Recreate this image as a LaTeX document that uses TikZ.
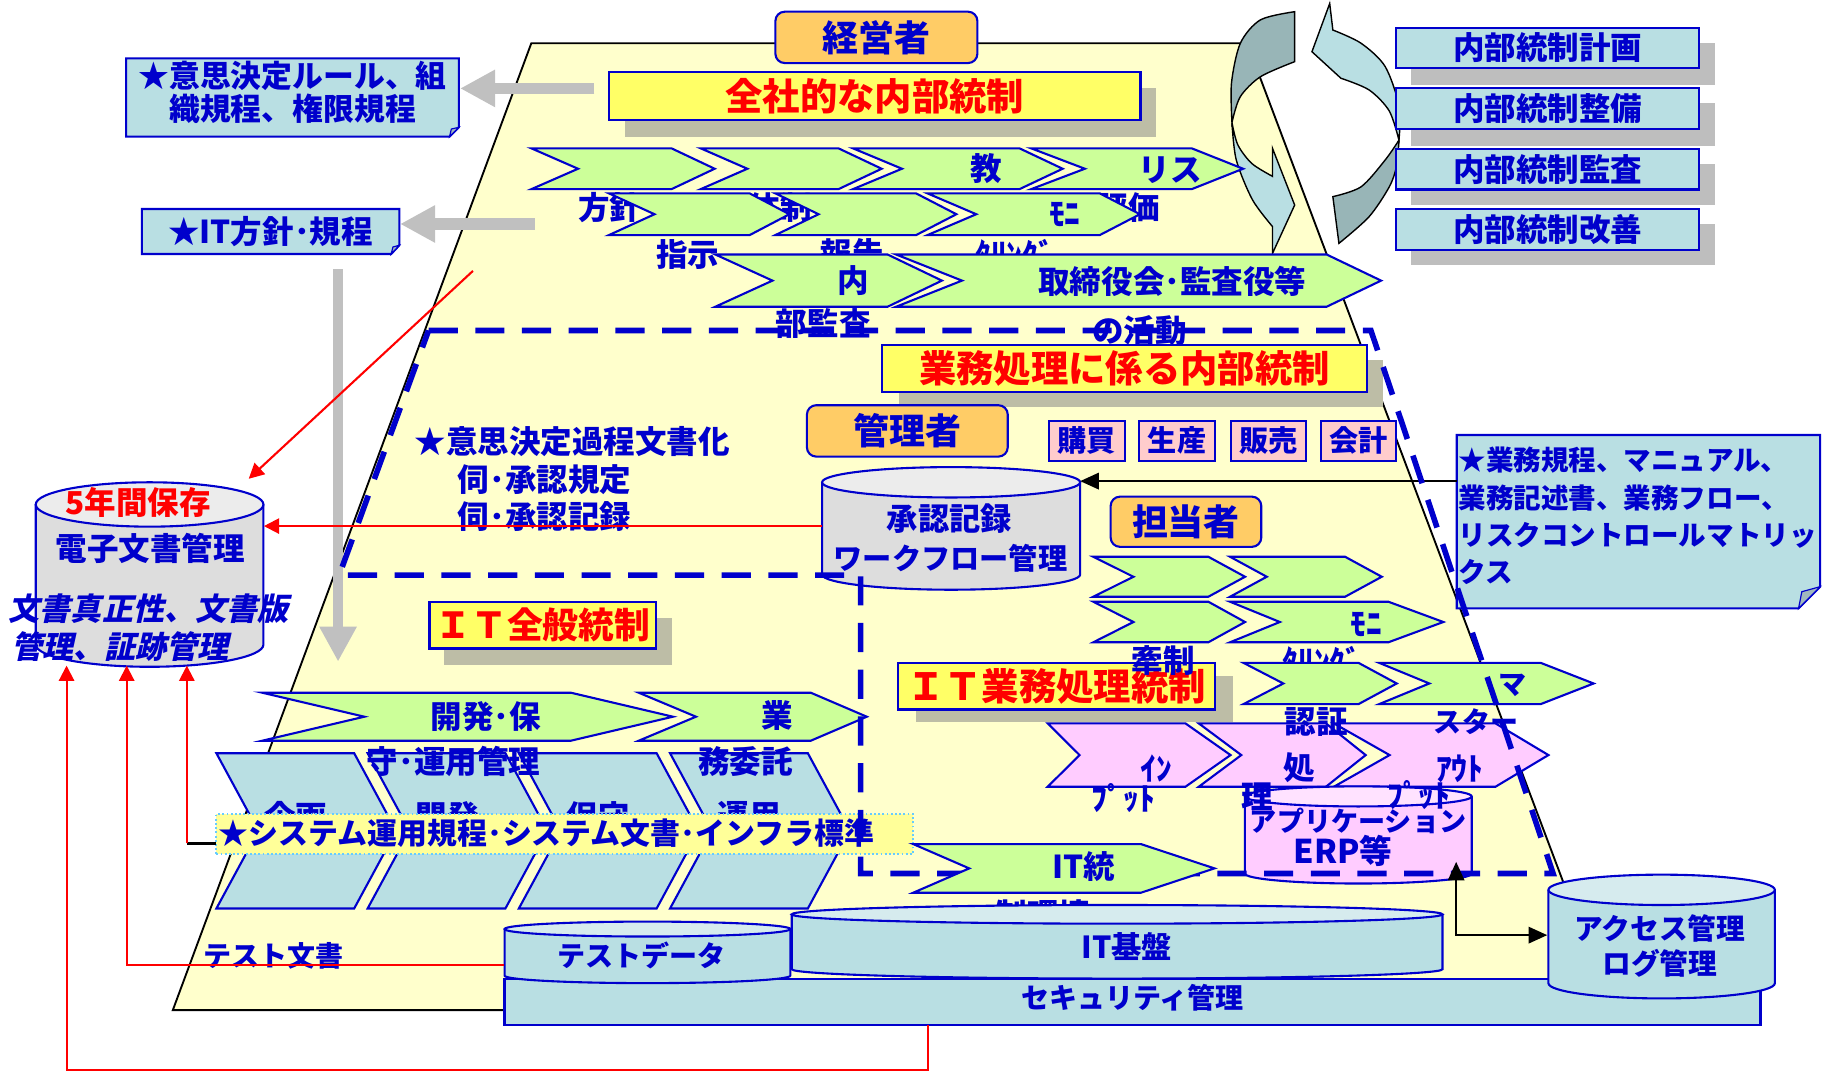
\documentclass[tikz,border=0pt]{standalone}
\usepackage{fontspec}
\setmainfont{Noto Sans CJK JP}
\newfontfamily\jpit{Noto Sans CJK JP}[FakeSlant=0.22]
\usetikzlibrary{arrows.meta,calc}
\definecolor{ublue}{RGB}{0,0,204}
\definecolor{lblue}{RGB}{185,223,227}
\definecolor{lbluet}{RGB}{214,235,238}
\definecolor{lgreen}{RGB}{204,255,153}
\definecolor{pinkc}{RGB}{255,204,255}
\definecolor{pinkt}{RGB}{255,226,255}
\definecolor{pinkb}{RGB}{255,204,204}
\definecolor{ttl}{RGB}{255,255,102}
\definecolor{trap}{RGB}{255,255,204}
\definecolor{orng}{RGB}{255,204,102}
\definecolor{shy}{RGB}{189,189,166}
\definecolor{shg}{RGB}{190,190,190}
\definecolor{garrow}{RGB}{192,192,192}
\definecolor{cdark}{RGB}{152,181,183}
\definecolor{cylg}{RGB}{221,221,221}
\definecolor{cylgt}{RGB}{236,236,236}
\definecolor{sysy}{RGB}{255,255,153}
\definecolor{dotb}{RGB}{102,204,255}
\definecolor{foldc}{RGB}{160,184,190}
\newcommand{\fsz}[2]{\fontsize{#1}{#2}\selectfont}
\newcommand{\chev}[7][chv]{%
  \pgfmathsetmacro\chvym{(#6+#7)/2}%
  \pgfmathsetmacro\chvxn{#2+#3}%
  \pgfmathsetmacro\chvxt{#4+#5}%
  \filldraw[#1] (#2,#6) -- (#4,#6) -- (\chvxt,\chvym) -- (#4,#7) -- (#2,#7) -- (\chvxn,\chvym) -- cycle;}
\newcommand{\cyl}[7]{%
  \pgfmathsetmacro\cylcx{(#3+#4)/2}%
  \pgfmathsetmacro\cylrx{(#4-#3)/2}%
  \fill[#1] (#3,#5) rectangle (#4,#6);
  \fill[#1] (\cylcx,#6) ellipse[x radius=\cylrx, y radius=#7];
  \draw[cylline] (#3,#5) -- (#3,#6) arc[start angle=180, end angle=0, x radius=\cylrx, y radius=#7] -- (#4,#5);
  \filldraw[fill=#2, cylline] (\cylcx,#5) ellipse[x radius=\cylrx, y radius=#7];}
\tikzset{
  chv/.style={fill=lgreen, draw=ublue, line width=0.9pt},
  pchv/.style={fill=pinkc, draw=ublue, line width=0.9pt},
  cylline/.style={draw=ublue, line width=0.9pt},
  txt/.style={text=ublue, font=\bfseries\fsz{13.5}{16}, inner sep=0pt, outer sep=0pt},
  lbox/.style={fill=lblue, draw=ublue, line width=0.9pt, text=ublue, font=\bfseries\fsz{13.5}{16}, inner sep=0pt},
  tbox/.style={fill=ttl, draw=ublue, line width=0.9pt, text=red, font=\bfseries\fsz{16}{18}, inner sep=0pt},
  obox/.style={fill=orng, draw=ublue, line width=0.9pt, rounded corners=4pt, text=ublue, font=\bfseries\fsz{15.4}{18}, inner sep=0pt},
  pbox/.style={fill=pinkb, draw=ublue, line width=0.9pt, text=ublue, font=\bfseries\fsz{12.5}{14}, inner sep=0pt},
  garr/.style={draw=garrow, line width=5pt, -{Triangle[width=15pt,length=15pt]}},
  redarr/.style={draw=red, line width=0.9pt, -{Triangle[width=6.5pt,length=6.5pt]}},
  blk/.style={draw=black, line width=1pt, -{Triangle[width=7pt,length=8pt]}},
  bdash/.style={draw=ublue, line width=2.4pt, dash pattern=on 12.5pt off 7.5pt},
  arc3d/.style={draw=black, line width=0.6pt}
}
\begin{document}
\begin{tikzpicture}[x=0.5pt,y=-0.5pt]
\useasboundingbox (0,0) rectangle (1568,917);
% trapezoid
\filldraw[fill=trap, draw=black, line width=0.8pt] (455,37) -- (1068,37) -- (1380,865) -- (148,865) -- cycle;
% circular arrows
\filldraw[arc3d, fill=cdark] (1108.7,10) -- (1108.7,52.8) -- plot[smooth] coordinates {(1108.7,52.8) (1079.4,65.7) (1062,83) (1055,105)} -- plot[smooth] coordinates {(1055,105) (1054.6,71) (1062.2,37) (1079.4,17) (1108.7,10)} -- cycle;
\filldraw[arc3d, fill=lblue] (1055,105) -- plot[smooth] coordinates {(1055,105) (1058.7,137) (1072.5,171) (1089.7,194)} -- (1089.7,217) -- (1108.7,175.6) -- (1089.7,127) -- (1089.7,151) -- plot[smooth] coordinates {(1089.7,151) (1072,140) (1060,124) (1055,105)} -- cycle;
\filldraw[arc3d, fill=lblue] (1138.7,3) -- (1123.5,44.3) -- (1148.3,67) -- plot[smooth] coordinates {(1148.3,67) (1172.4,77) (1189.7,95) (1198,120)} -- plot[smooth] coordinates {(1198,120) (1198.3,91.4) (1186.2,57) (1165.5,37) (1141.4,25.7)} -- cycle;
\filldraw[arc3d, fill=cdark] (1198,120) -- plot[smooth] coordinates {(1198,120) (1196,142) (1189.7,160) (1172.4,185.6) (1146.6,208.4)} -- (1141.4,168.4) -- plot[smooth] coordinates {(1141.4,168.4) (1165.5,160) (1186.2,137) (1198,120)} -- cycle;
% right boxes
\fill[shg] (1208.6,36.5) rectangle (1468.8,72.8);
\fill[shg] (1208.6,88.5) rectangle (1468.8,124.8);
\fill[shg] (1208.6,140.3) rectangle (1468.8,175.6);
\fill[shg] (1208.6,192) rectangle (1468.8,227.3);
\node[lbox, minimum width=129.75pt, minimum height=17.4pt] (ic1) at (1325.3,41.1) {内部統制計画};
\node[lbox, minimum width=129.75pt, minimum height=17.4pt] (ic2) at (1325.3,93.1) {内部統制整備};
\node[lbox, minimum width=129.75pt, minimum height=17.4pt] (ic3) at (1325.3,144.9) {内部統制監査};
\node[lbox, minimum width=129.75pt, minimum height=17.4pt] (ic4) at (1325.3,196.6) {内部統制改善};
% rule box
\filldraw[fill=lblue, draw=ublue, line width=0.9pt] (108,50) -- (393,50) -- (393,109) -- (385,117) -- (108,117) -- cycle;
\filldraw[fill=foldc, draw=ublue, line width=0.5pt] (393,109) -- (385,117) -- (386.5,110.5) -- cycle;
\node[txt, align=center, font=\bfseries\fsz{13.2}{14.3}] (rule) at (250.5,79) {★意思決定ルール、組\\織規程、権限規程};
% IT policy box
\filldraw[fill=lblue, draw=ublue, line width=0.9pt] (121.5,179) -- (342,179) -- (342,210) -- (335,217.5) -- (121.5,217.5) -- cycle;
\filldraw[fill=foldc, draw=ublue, line width=0.5pt] (342,210) -- (335,217.5) -- (336.5,211.5) -- cycle;
\node[txt] (itpol) at (231.7,198.3) {★IT方針･規程};
% grey arrows
\coordinate (ga1s) at (509,75.7); \coordinate (ga1e) at (394,75.7);
\coordinate (ga2s) at (458,191.8); \coordinate (ga2e) at (342.6,191.8);
\draw[garr] (ga1s) -- (ga1e);
\draw[garr] (ga2s) -- (ga2e);
% top
\node[obox, minimum width=86.5pt, minimum height=22pt] (keiei) at (750.5,32) {経営者};
\fill[shy] (535,75) rectangle (990,117);
\node[tbox, minimum width=227.5pt, minimum height=20.5pt] (zensha) at (749.2,82.5) {全社的な内部統制};
% top chevrons row 1
\chev{455}{40}{575}{37}{127}{162}
\chev{600}{40}{718}{37}{127}{162}
\chev{730.4}{42}{873}{37}{127}{162}
\chev{883}{46}{1020.5}{44}{127}{162}
\node[txt] (r1a) at (522,178) {方針};
\node[txt] (r1b) at (668,178) {体制};
\node[txt] (r1c) at (845,144) {教};
\node[txt] (r1d) at (1002,146) {リス};
\node[txt] (r1e) at (966,178) {評価};
% row 2
\chev{521.5}{39}{642}{34}{165.6}{201.3}
\chev{664}{37}{784.5}{34.5}{165.6}{201.3}
\chev{794.3}{41.7}{941.8}{34.4}{165.6}{201.3}
\node[txt] (r2a) at (589,218) {指示};
\node[txt] (r2b) at (730,217) {報告};
\node[txt] (r2c) at (912,184) {ﾓﾆ};
\node[txt] (r2d) at (869,218) {ﾀﾘﾝｸﾞ};
% row 3
\chev{612.5}{49}{760}{46.6}{217.9}{262.7}
\chev{767.3}{56.5}{1136}{46.7}{217.9}{262.7}
\node[txt] (r3a) at (731,240) {内};
\node[txt] (r3b) at (705,277) {部監査};
\node[txt] (r3c) at (1004,241) {取締役会･監査役等};
\node[txt] (r3d) at (976,283) {の活動};
% decision doc texts
\node[txt, anchor=west] (dp1) at (355,378) {★意思決定過程文書化};
\node[txt, anchor=west] (dp2) at (392,411) {伺･承認規定};
\node[txt, anchor=west] (dp3) at (392,442.5) {伺･承認記録};
% electronic doc cylinder
\cyl{cylg}{cylgt}{30.6}{225.6}{432}{552}{19}
\node[txt, text=red] (dd0) at (118.5,430) {5年間保存};
\node[txt] (dd1) at (128.6,469.6) {電子文書管理};
\node[txt, anchor=west, font=\jpit\bfseries\fsz{13.3}{16}] (dd2) at (7.6,521) {文書真正性、文書版};
\node[txt, anchor=west, font=\jpit\bfseries\fsz{13.3}{16}] (dd3) at (9.6,553.5) {管理、証跡管理};
% approval cylinder
\cyl{cylg}{cylgt}{704}{925}{413}{492}{13}
\node[txt, font=\bfseries\fsz{13.4}{16}] (sk1) at (813,444) {承認記録};
\node[txt, font=\bfseries\fsz{12.5}{15}] (sk2) at (814,478) {ワークフロー管理};
% business section
\fill[shy] (769.5,308.4) rectangle (1184.6,348.4);
\node[tbox, minimum width=207.5pt, minimum height=20pt] (gyomu) at (963,315.4) {業務処理に係る内部統制};
\node[obox, minimum width=86pt, minimum height=22pt] (kanri) at (777,369) {管理者};
\node[pbox, minimum width=32.7pt, minimum height=17.3pt] (kobai) at (930.7,377.5) {購買};
\node[pbox, minimum width=32.7pt, minimum height=17.3pt] (seisan) at (1008,377.5) {生産};
\node[pbox, minimum width=32.3pt, minimum height=17.3pt] (hanbai) at (1086.2,377.5) {販売};
\node[pbox, minimum width=32.3pt, minimum height=17.3pt] (kaikei) at (1163.5,377.5) {会計};
\node[obox, minimum width=64.5pt, minimum height=21.5pt] (tanto) at (1015.6,446.8) {担当者};
% business rules box
\filldraw[fill=lblue, draw=ublue, line width=0.9pt] (1247.5,372.5) -- (1558.7,372.5) -- (1558.7,502.4) -- (1540.2,521) -- (1247.5,521) -- cycle;
\filldraw[fill=foldc, draw=ublue, line width=0.5pt] (1558.7,502.4) -- (1540.2,521) -- (1543,506.7) -- cycle;
\node[txt, anchor=west, align=left, font=\bfseries\fsz{11.8}{16}] (gk) at (1249,442) {★業務規程、マニュアル、\\業務記述書、業務フロー、\\リスクコントロールマトリッ\\クス};
\coordinate (gkW) at (1247.5,412); \coordinate (skE) at (925,412);
\draw[blk] (gkW) -- (skE);
% chevrons in business area
\chev{936.3}{34.3}{1034.8}{31.4}{476.8}{511}
\chev{1053.4}{31.4}{1151.9}{31.4}{476.8}{511}
\chev{936.3}{34.3}{1034.8}{31.4}{515.3}{550}
\chev{1053.4}{42.6}{1189}{47}{515.3}{550}
\node[txt] (b2a) at (1170,535) {ﾓﾆ};
\node[txt] (b2b) at (1132,566) {ﾀﾘﾝｸﾞ};
\fill[shy] (784,579) rectangle (1055.5,618.5);
\node[tbox, minimum width=135.75pt, minimum height=19.75pt] (itg) at (904.8,587.8) {ＩＴ業務処理統制};
\chev{1064.8}{34.2}{1163.3}{32.8}{567.6}{603}
\chev{1181}{43}{1319.3}{45.4}{567.6}{603}
\node[txt, font=\bfseries\fsz{12}{14}] (c2a) at (1295,587) {マ};
\chev[pchv]{897.2}{27.3}{1015.2}{38.6}{619.5}{673.7}
\chev[pchv]{1026.6}{36.4}{1135.5}{34}{619.5}{673.7}
\chev[pchv]{1142.3}{47.7}{1280.7}{45.3}{619.5}{673.7}
\cyl{pinkc}{pinkt}{1066}{1260.3}{682}{748}{8.6}
\node[txt, font=\bfseries\fsz{11.6}{14}] (erp1) at (1163,703) {アプリケーション};
\node[txt, font=\bfseries\fsz{14}{16}] (erp2) at (1150,729) {ERP等};
\node[txt] (b1a) at (996,566) {牽制};
\node[txt] (c1a) at (1127,618) {認証};
\node[txt, font=\bfseries\fsz{12}{14}] (c2b) at (1264,618) {スター};
\node[txt] (p1a) at (990,658) {ｲﾝ};
\node[txt] (p1b) at (962,683) {ﾌﾟｯﾄ};
\node[txt] (p2a) at (1113,657) {処};
\node[txt] (p2b) at (1077,682) {理};
\node[txt] (p3a) at (1250,658) {ｱｳﾄ};
\node[txt] (p3b) at (1215,681) {ﾌﾟｯﾄ};
% IT general control section
\fill[shy] (380.4,529.6) rectangle (575.4,569.6);
\node[tbox, minimum width=97.1pt, minimum height=20pt, font=\bfseries\fsz{15.3}{18}] (itz) at (464.9,535.3) {ＩＴ全般統制};
\chev{224.6}{87.4}{488.9}{87.4}{593.2}{634.3}
\chev{547}{49}{694.3}{48}{593.2}{634.3}
\foreach \L/\nm [count=\i] in {185.3/企画,314.8/開発,444.3/保守,573.8/運用}{
  \filldraw[fill=lblue, draw=ublue, line width=0.9pt] (\L,645) -- ({\L+118},645) -- ({\L+154},711.5) -- ({\L+118},778) -- (\L,778) -- ({\L+36},711.5) -- cycle;
  \node[txt] (ph\i) at ({\L+68},699) {\nm};
}
\node[txt] (l1a) at (416,613.7) {開発･保};
\node[txt] (l1b) at (388.5,652) {守･運用管理};
\node[txt] (l2a) at (666,613) {業};
\node[txt] (l2b) at (638.5,652) {務委託};
\node[fill=sysy, draw=dotb, densely dotted, line width=0.8pt, minimum width=298.2pt, minimum height=17.15pt, inner sep=0pt] (sys) at (483.5,714.25) {};
\node[txt, anchor=west, font=\bfseries\fsz{12.8}{15}] (syst) at (187.5,713.7) {★システム運用規程･システム文書･インフラ標準};
% grey vertical arrow
\coordinate (ga3s) at (289.5,230.7); \coordinate (ga3e) at (289.5,566.6);
\draw[garr, line width=4.5pt] (ga3s) -- (ga3e);
% dashed region
\draw[bdash] (367,283) -- (1174,283) -- (1330,748) -- (737,748) -- (737,492.5) -- (290.5,492.5) -- cycle;
% IT control environment chevron
\chev{782}{48}{977}{63}{722.8}{764.5}
\node[txt] (ite1) at (928,742) {IT統};
\node[txt] (ite2) at (893,783) {制環境};
% infrastructure
\node[fill=lblue, draw=ublue, line width=0.9pt, minimum width=537.8pt, minimum height=19.4pt, inner sep=0pt] (sec) at (969.8,858.1) {};
\node[txt, font=\bfseries\fsz{12}{14}] (sect) at (970,854) {セキュリティ管理};
\cyl{lblue}{lbluet}{432.1}{676.8}{795.6}{835.5}{6.4}
\node[txt, font=\bfseries\fsz{12}{14}] (tdata) at (549,818.5) {テストデータ};
\cyl{lblue}{lbluet}{678}{1235.3}{783}{830}{8}
\node[txt, font=\bfseries\fsz{13}{15}] (itb) at (965,810.6) {IT基盤};
\cyl{lblue}{lbluet}{1326}{1519.9}{762}{842}{13}
\node[txt, align=center, font=\bfseries\fsz{12.3}{15}] (acc) at (1421.4,810) {アクセス管理\\ログ管理};
\node[txt, anchor=west, font=\bfseries\fsz{12}{14}] (tdoc) at (174.4,818.6) {テスト文書};
% red connectors
\coordinate (skW) at (704,450.5); \coordinate (ddE) at (226,450.5);
\draw[redarr] (skW) -- (ddE);
\coordinate (rdS) at (405,232); \coordinate (rdE) at (213,410);
\draw[redarr] (rdS) -- (rdE);
\coordinate (secB) at (795,877.5); \coordinate (ddB1) at (57,570);
\draw[redarr] (secB) -- ++(0,38.5) -| (ddB1);
\coordinate (tdW) at (432,826); \coordinate (ddB2) at (108.5,570);
\draw[redarr] (tdW) -| (ddB2);
\coordinate (sysW) at (185.3,722.3); \coordinate (ddB3) at (160,570);
\draw[black, line width=0.9pt] (sysW) -- (sysW -| ddB3);
\draw[redarr] (sysW -| ddB3) -- (ddB3);
% black connector ERP - access
\coordinate (erpB) at (1247,738); \coordinate (acW) at (1325,800.8);
\draw[blk, {Triangle[width=7pt,length=8pt]}-{Triangle[width=7pt,length=8pt]}] (erpB) |- (acW);
\end{tikzpicture}
\end{document}
